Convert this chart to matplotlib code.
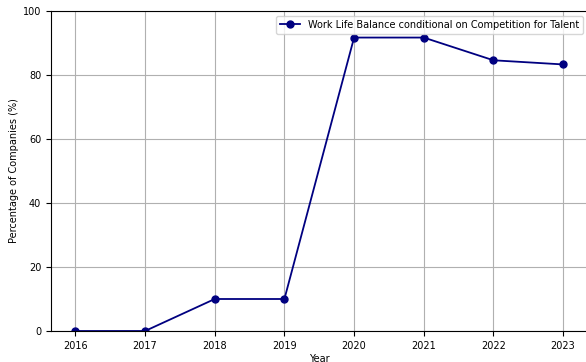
import matplotlib
matplotlib.use('Agg')
import matplotlib.pyplot as plt

years = [2016, 2017, 2018, 2019, 2020, 2021, 2022, 2023]
pct = [0, 0, 10, 10, 91.7, 91.7, 84.6, 83.3]
label = 'Work Life Balance conditional on Competition for Talent'

plt.rcParams['font.size'] = 7

fig = plt.figure(figsize=(5.86, 3.62), dpi=100)
ax = fig.add_axes([51 / 586, 31 / 362, 536.5 / 586, 320 / 362])
ax.plot(years, pct, marker='o', color='navy', markersize=5, linewidth=1.3, label=label)
ax.set_ylim(0, 100)
ax.set_xticks(years)
ax.set_xlabel('Year', labelpad=2)
ax.set_ylabel('Percentage of Companies (%)', labelpad=3)
ax.grid(True)
ax.legend(loc='upper right')
fig.savefig('out.png', dpi=100)
